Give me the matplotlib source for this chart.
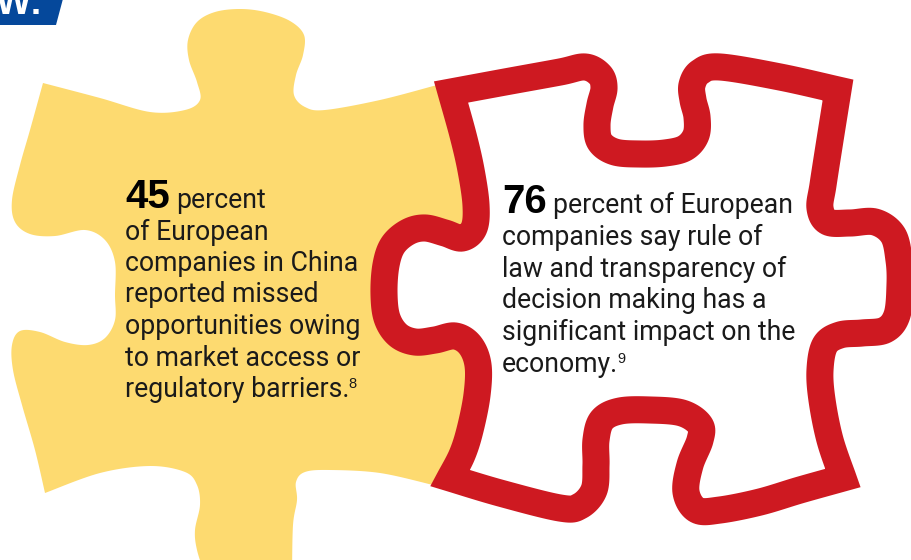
import os
import numpy as np
import matplotlib
matplotlib.use("Agg")
import matplotlib.pyplot as plt
from matplotlib import font_manager as fm
from matplotlib.font_manager import FontProperties
from matplotlib.patches import Polygon

# texte des deux pièces du puzzle
stat_numbers = ["45", "76"]
first_line_rest = ["percent", "percent of European"]
left_lines = ["of European", "companies in China", "reported missed",
              "opportunities owing", "to market access or", "regulatory barriers."]
right_lines = ["companies say rule of", "law and transparency of",
               "decision making has a", "significant impact on the", "economy."]
footnotes = ["8", "9"]
header_tail = "W:"

YELLOW = "#FDDA70"
RED = "#CE1921"
BLUE = "#05489B"
INK = "#1a1a1a"

# contours en pixels (x, y depuis le haut)
yellow_top = [(43, 83), (100, 98), (150, 112), (185, 110), (200, 100), (197, 82),
              (189, 60), (188, 40), (197, 22), (215, 12), (240, 9), (265, 12),
              (290, 21), (304, 35), (303, 55), (296, 75), (294, 95), (305, 107),
              (325, 110), (380, 100), (437, 85)]
yellow_hidden = [(500, 95), (500, 470), (440, 484)]
yellow_bottom_r = [(433, 485), (380, 473), (330, 470), (305, 472), (296, 482),
                   (297, 500), (293, 525), (292, 575)]
yellow_bottom_l = [(205, 575), (197, 550), (195, 530), (200, 505), (197, 485),
                   (185, 472), (150, 466), (100, 473), (45, 493)]
yellow_left = [(45, 493), (35, 450), (22, 405), (13, 370), (12, 345), (20, 331),
               (40, 332), (65, 342), (88, 345), (105, 338), (115, 320), (115, 295),
               (115, 262), (105, 240), (85, 230), (55, 236), (30, 234), (15, 222),
               (12, 200), (20, 165), (30, 130), (43, 83)]

red_top = [(451, 92), (505, 82), (560, 72), (585, 67), (600, 75), (604, 88),
           (600, 105), (597, 125), (600, 142), (615, 152), (640, 154), (665, 153),
           (685, 148), (696, 135), (697, 117), (693, 100), (692, 85), (700, 72),
           (720, 67), (780, 77), (838, 90)]
red_right = [(838, 90), (830, 140), (823, 185), (820, 208), (828, 222), (850, 223),
             (875, 222), (893, 235), (899, 260), (900, 285), (897, 315), (885, 330),
             (862, 333), (840, 335), (825, 345), (820, 370), (822, 400), (830, 440),
             (843, 478)]
red_bottom = [(843, 478), (800, 490), (760, 502), (720, 510), (697, 510), (686, 492),
              (690, 465), (700, 440), (700, 425), (682, 413), (650, 410), (620, 411),
              (602, 420), (596, 440), (596, 465), (594, 490), (580, 506), (560, 508),
              (500, 493), (450, 478)]
red_left = [(450, 478), (462, 455), (470, 430), (477, 395), (478, 365), (470, 345),
            (455, 336), (435, 340), (415, 342), (398, 335), (387, 318), (384, 293),
            (386, 265), (393, 245), (408, 232), (425, 228), (445, 233), (462, 238),
            (474, 228), (476, 205), (471, 170), (463, 135), (451, 92)]


def smooth(points, n=14):
    """Catmull-Rom passant par tous les points"""
    pts = np.array(points, float)
    p = np.vstack([pts[0], pts, pts[-1]])
    t = np.linspace(0, 1, n, endpoint=False)[:, None]
    out = []
    for i in range(1, len(p) - 2):
        p0, p1, p2, p3 = p[i - 1], p[i], p[i + 1], p[i + 2]
        out.append(0.5 * (2 * p1 + (-p0 + p2) * t
                          + (2 * p0 - 5 * p1 + 4 * p2 - p3) * t ** 2
                          + (-p0 + 3 * p1 - 3 * p2 + p3) * t ** 3))
    out.append(pts[-1:])
    return np.vstack(out)


def body_face(size):
    for family in ["Roboto", "Lato", "Open Sans", "Noto Sans"]:
        for f in fm.fontManager.ttflist:
            base = os.path.basename(f.fname).lower()
            if f.name == family and base.endswith("-regular.ttf"):
                return FontProperties(fname=f.fname, size=size)
    return FontProperties(family="Liberation Sans", size=size)


body_font = body_face(19.2)
num_font = FontProperties(family=["Liberation Sans", "DejaVu Sans"], weight="bold", size=29)
sup_font = FontProperties(family=["Liberation Sans", "DejaVu Sans"], size=10.5)

fig = plt.figure(figsize=(9.12, 5.6), dpi=100)
ax = fig.add_axes([0, 0, 1, 1])
ax.set_xlim(0, 912)
ax.set_ylim(560, 0)
ax.axis("off")

# bandeau bleu coupé en haut à gauche
ax.add_patch(Polygon([(0, -5), (64, -5), (56, 25), (0, 25)], closed=True,
                     fc=BLUE, ec="none"))
ax.text(43, 14, header_tail, color="white", ha="right", va="baseline",
        fontproperties=FontProperties(family="Liberation Sans", weight="bold", size=27))

# pièce jaune
yellow = np.vstack([smooth(yellow_top), np.array(yellow_hidden, float),
                    smooth(yellow_bottom_r), smooth(yellow_bottom_l), smooth(yellow_left)])
ax.add_patch(Polygon(yellow, closed=True, fc=YELLOW, ec="none"))

# pièce rouge (contour seulement)
red = np.vstack([smooth(red_top)[:-1], smooth(red_right)[:-1],
                 smooth(red_bottom)[:-1], smooth(red_left)[:-1]])
ax.add_patch(Polygon(red, closed=True, fc="white", ec=RED, lw=19.5,
                     joinstyle="miter"))

renderer = fig.canvas.get_renderer()


def text_block(x, y0, step, number, rest, lines, note):
    t = ax.text(x, y0, number, ha="left", va="baseline", color="black",
                fontproperties=num_font)
    w = t.get_window_extent(renderer).width
    ax.text(x + w + 6, y0, rest, ha="left", va="baseline", color=INK,
            fontproperties=body_font)
    y = y0
    last = None
    for line in lines:
        y += step
        last = ax.text(x, y, line, ha="left", va="baseline", color=INK,
                       fontproperties=body_font)
    lw = last.get_window_extent(renderer).width
    ax.text(x + lw - 1, y - 9, note, ha="left", va="baseline", color=INK,
            fontproperties=sup_font)


text_block(125, 208, 31.5, stat_numbers[0], first_line_rest[0], left_lines, footnotes[0])
text_block(502, 213, 31.8, stat_numbers[1], first_line_rest[1], right_lines, footnotes[1])

fig.savefig("out.png", dpi=100)
